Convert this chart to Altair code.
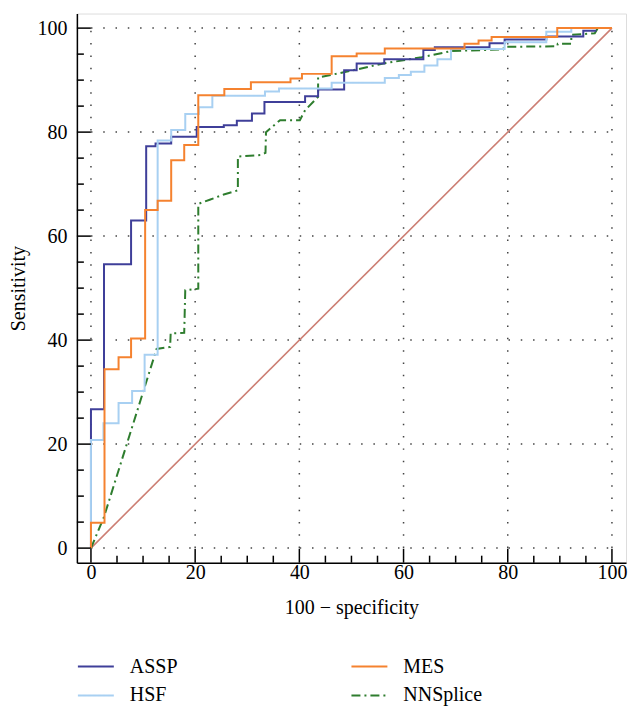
import altair as alt
import pandas as pd

FONT = "Liberation Serif"

series_names = ["ASSP", "MES", "HSF", "NNSplice"]
series_colors = ["#3f3f99", "#f5822f", "#a8d0f2", "#2e7d2e"]
series_dashes = [[1, 0], [1, 0], [1, 0], [9, 4, 2, 4]]

# ROC step curves (step-after: at x the curve jumps to y)
assp_x = [0, 0, 2.5, 7.7, 10.6, 12.4, 15.4, 20.3, 25.5, 28.0, 30.9, 33.3, 41.1, 43.6,
          48.6, 51.0, 56.3, 63.8, 66.0, 76.5, 79.4, 87.4, 94.5, 97.0]
assp_y = [0, 26.7, 54.6, 63.0, 77.3, 77.8, 79.1, 81.0, 81.3, 82.2, 83.6, 85.8, 86.9, 88.2,
          91.9, 93.2, 94.0, 95.8, 96.3, 97.1, 97.8, 98.4, 99.5, 99.5]

hsf_x = [0, 0, 2.4, 5.3, 7.9, 10.3, 12.8, 15.4, 18.1, 20.7, 23.3, 33.4, 36.1, 46.2,
         56.4, 59.1, 61.4, 64.0, 66.5, 69.1, 79.4, 87.4, 92.2, 100]
hsf_y = [0, 20.8, 24.0, 27.9, 30.2, 37.2, 78.4, 80.4, 83.5, 84.8, 87.0, 87.8, 88.4, 89.5,
         90.4, 91.0, 91.6, 92.8, 94.0, 96.0, 97.3, 99.3, 100, 100]

mes_x = [0, 0, 2.6, 5.3, 7.7, 10.4, 12.8, 15.4, 17.9, 20.6, 25.6, 30.7, 38.3, 40.5,
         46.2, 51.0, 56.4, 71.7, 74.4, 76.9, 89.5, 100]
mes_y = [0, 4.9, 34.4, 36.7, 40.3, 65.0, 66.8, 74.6, 77.5, 87.1, 88.3, 89.6, 90.3, 91.2,
         94.6, 95.1, 96.1, 97.0, 97.6, 98.3, 100, 100]

# NNSplice drawn with straight segments
nns_x = [0, 2.5, 12.6, 15.2, 15.3, 17.9, 18.1, 20.6, 20.6, 22.8, 25.5, 28.2, 28.2, 32.5,
         33.5, 33.6, 36.3, 40.1, 41.1, 43.6, 43.6, 49.9, 56.1, 63.5, 69.2, 79.1, 79.3,
         89.5, 89.6, 92.2, 92.2, 96.7, 97.3, 100]
nns_y = [0, 6.0, 38.3, 38.7, 41.3, 41.4, 49.6, 49.9, 66.2, 67.0, 68.0, 68.8, 75.3, 75.6,
         76.0, 80.0, 82.3, 82.3, 84.2, 86.8, 90.5, 91.8, 93.2, 94.4, 95.6, 95.9, 96.4,
         96.5, 97.0, 97.0, 98.7, 99.0, 100, 100]

diag_x = [0, 100]
diag_y = [0, 100]

grid_values = [0, 20, 40, 60, 80, 100]
tick_values = list(range(0, 101, 5))
tick_labels = [0, 20, 40, 60, 80, 100]

W = 550
H = 550

rows = []
for name, xs, ys in [("ASSP", assp_x, assp_y), ("HSF", hsf_x, hsf_y), ("MES", mes_x, mes_y)]:
    for i, (a, b) in enumerate(zip(xs, ys)):
        rows.append({"x": a, "y": b, "series": name, "idx": i})
step_df = pd.DataFrame(rows)
nns_df = pd.DataFrame({"x": nns_x, "y": nns_y, "series": "NNSplice", "idx": list(range(len(nns_x)))})
diag_df = pd.DataFrame({"x": diag_x, "y": diag_y})

grid_df = pd.DataFrame({"v": grid_values, "lo": [0] * len(grid_values), "hi": [100] * len(grid_values)})
major_df = pd.DataFrame({"v": [t for t in tick_values if t % 20 == 0]})
minor_df = pd.DataFrame({"v": [t for t in tick_values if t % 20 != 0]})

xscale = alt.Scale(domain=[-2.7, 102.7], nice=False, zero=False)
yscale = alt.Scale(domain=[-2.8, 102.8], nice=False, zero=False)

x_axis = alt.Axis(values=tick_labels, ticks=False, grid=False, domainColor="black",
                  domainWidth=1.5, labelFont=FONT, labelFontSize=20, labelColor="black",
                  labelPadding=0, titleFont=FONT, titleFontSize=20, titleFontWeight="normal",
                  titleColor="black", titlePadding=15, labelFlush=False)
y_axis = alt.Axis(values=tick_labels, ticks=False, grid=False, domainColor="black",
                  domainWidth=1.5, labelFont=FONT, labelFontSize=20, labelColor="black",
                  labelPadding=10, titleFont=FONT, titleFontSize=20, titleFontWeight="normal",
                  titleColor="black", titlePadding=8, labelFlush=False)

XT = "100 − specificity"
YT = "Sensitivity"


def X(f):
    return alt.X(f, type="quantitative", scale=xscale, axis=x_axis, title=XT)


def Y(f):
    return alt.Y(f, type="quantitative", scale=yscale, axis=y_axis, title=YT)


legend = alt.Legend(orient="none", legendX=0, legendY=635, columns=2, columnPadding=170,
                    direction="horizontal", rowPadding=-8, symbolType="stroke",
                    symbolSize=1296, symbolStrokeWidth=2,
                    labelFont=FONT, labelFontSize=20, labelColor="black", labelOffset=15,
                    title=None)
color = alt.Color("series:N", scale=alt.Scale(domain=series_names, range=series_colors), legend=legend)
dash = alt.StrokeDash("series:N", scale=alt.Scale(domain=series_names, range=series_dashes), legend=legend)

grid_color = "#444444"
vgrid = alt.Chart(grid_df).mark_rule(color=grid_color, strokeWidth=1.5, strokeDash=[1.5, 10.8]).encode(
    x=X("v"), y=Y("lo"), y2=alt.Y2("hi"))
hgrid = alt.Chart(grid_df).mark_rule(color=grid_color, strokeWidth=1.5, strokeDash=[1.5, 10.8]).encode(
    y=Y("v"), x=X("lo"), x2=alt.X2("hi"))

xmaj = alt.Chart(major_df).mark_rule(color="black", strokeWidth=1.5).encode(
    x=X("v"), y=alt.value(H), y2=alt.value(H - 14))
xmin = alt.Chart(minor_df).mark_rule(color="black", strokeWidth=1.5).encode(
    x=X("v"), y=alt.value(H), y2=alt.value(H - 7))
ymaj = alt.Chart(major_df).mark_rule(color="black", strokeWidth=1.5).encode(
    y=Y("v"), x=alt.value(0), x2=alt.value(14))
ymin = alt.Chart(minor_df).mark_rule(color="black", strokeWidth=1.5).encode(
    y=Y("v"), x=alt.value(0), x2=alt.value(7))

diag = alt.Chart(diag_df).mark_line(color="#cc7e73", strokeWidth=1.6).encode(x=X("x"), y=Y("y"))

steps = alt.Chart(step_df).mark_line(interpolate="step-after", strokeWidth=2).encode(
    x=X("x"), y=Y("y"), color=color, strokeDash=dash, order="idx:Q")
nns = alt.Chart(nns_df).mark_line(strokeWidth=2).encode(
    x=X("x"), y=Y("y"), color=color, strokeDash=dash, order="idx:Q")

chart = alt.layer(vgrid, hgrid, diag, nns, steps, xmaj, xmin, ymaj, ymin).properties(
    width=W, height=H,
    autosize=alt.AutoSizeParams(type="none"),
    padding={"left": 69, "top": 5, "right": 8, "bottom": 150},
).configure_view(stroke=None).configure(background="white")

chart.save("out.html", embed_options={"renderer": "svg", "actions": False})
